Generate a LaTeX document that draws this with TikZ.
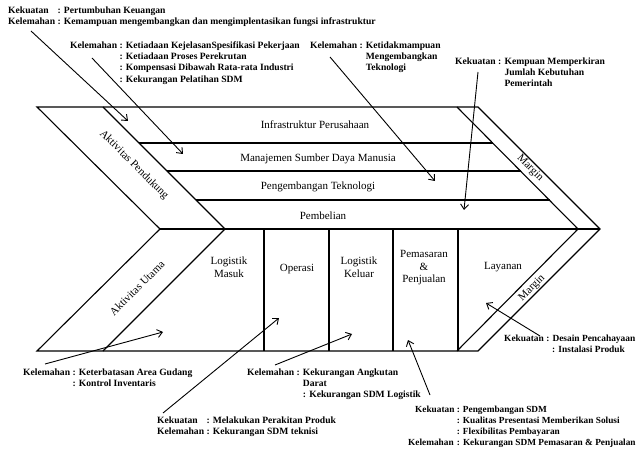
\documentclass[tikz,border=0pt]{standalone}
\usepackage{fontspec}
\setmainfont{Liberation Serif}
\usetikzlibrary{arrows.meta}

\begin{document}
\begin{tikzpicture}[x=1pt,y=-1pt,
  garis/.style={line width=1.1pt},
  panah/.style={line width=0.9pt,-{Straight Barb[length=5pt,width=8pt]}},
  ket/.style={font=\bfseries\fontsize{9.6}{11.4}\selectfont,anchor=north west},
  isi/.style={font=\fontsize{11}{12.5}\selectfont,align=center}]
\tikzstyle{every node}+=[inner sep=0pt]
\useasboundingbox (0,0) rectangle (637,449);
% bentuk rantai nilai
\draw [garis] (37,107) -- (478,107) -- (600,229) -- (478,351) -- (37,351) -- (160,229) -- cycle;
\draw [garis] (103,107) -- (225,229) -- (103,351);
\draw [garis] (457,107) -- (578,229) -- (457,351);
\draw [garis] (160,229) -- (600,229);
\draw [garis] (139,143) -- (493,143);
\draw [garis] (167,171) -- (521,171);
\draw [garis] (196,200) -- (550,200);
\draw [garis] (264,229) -- (264,351);
\draw [garis] (329,229) -- (329,351);
\draw [garis] (393,229) -- (393,351);
\draw [garis] (458,229) -- (458,351);
% aktivitas pendukung
\node [isi] (infra) at (315,125) {Infrastruktur Perusahaan};
\node [isi] (sdm) at (318,159) {Manajemen Sumber Daya Manusia};
\node [isi] (tekno) at (318,187) {Pengembangan Teknologi};
\node [isi] (beli) at (323,216) {Pembelian};
% aktivitas utama
\node [isi] (masuk) at (229,267) {Logistik\\Masuk};
\node [isi] (operasi) at (297,269) {Operasi};
\node [isi] (keluar) at (359,267) {Logistik\\Keluar};
\node [isi] (pasar) at (424,268) {Pemasaran\\\&\\Penjualan};
\node [isi] (layanan) at (503,267) {Layanan};
\node [isi,rotate=-45] (pendukung) at (134,165) {Aktivitas Pendukung};
\node [isi,rotate=45] (utama) at (137,288) {Aktivitas Utama};
\node [isi,rotate=-45] (marginA) at (530,168) {Margin};
\node [isi,rotate=45] (marginB) at (532,288) {Margin};
% keterangan
\node [ket] (ket1) at (8,5) {\begin{tabular}{@{}l@{ }l@{}}
Kekuatan & : Pertumbuhan Keuangan\\
Kelemahan & : Kemampuan mengembangkan dan mengimplentasikan fungsi infrastruktur
\end{tabular}};
\node [ket] (ket2) at (70,40) {\begin{tabular}{@{}l@{ }l@{}}
Kelemahan & : Ketiadaan KejelasanSpesifikasi Pekerjaan\\
 & : Ketiadaan Proses Perekrutan\\
 & : Kompensasi Dibawah Rata-rata Industri\\
 & : Kekurangan Pelatihan SDM
\end{tabular}};
\node [ket] (ket3) at (310,40) {\begin{tabular}{@{}l@{ }l@{ }l@{}}
Kelemahan & : & Ketidakmampuan\\
 & & Mengembangkan\\
 & & Teknologi
\end{tabular}};
\node [ket] (ket4) at (455,56) {\begin{tabular}{@{}l@{ }l@{ }l@{}}
Kekuatan & : & Kempuan Memperkiran\\
 & & Jumlah Kebutuhan\\
 & & Pemerintah
\end{tabular}};
\node [ket] (ket5) at (23,367) {\begin{tabular}{@{}l@{ }l@{}}
Kelemahan & : Keterbatasan Area Gudang\\
 & : Kontrol Inventaris
\end{tabular}};
\node [ket] (ket6) at (157,415) {\begin{tabular}{@{}l@{ }l@{}}
Kekuatan & : Melakukan Perakitan Produk\\
Kelemahan & : Kekurangan SDM teknisi
\end{tabular}};
\node [ket] (ket7) at (247,367) {\begin{tabular}{@{}l@{ }l@{ }l@{}}
Kelemahan & : & Kekurangan Angkutan\\
 & & Darat\\
 & & : Kekurangan SDM Logistik
\end{tabular}};
\node [ket,font=\bfseries\fontsize{9.3}{11.2}\selectfont] (ket8) at (408,404) {\begin{tabular}{@{}l@{ }l@{}}
\hspace*{7pt}Kekuatan & : Pengembangan SDM\\
 & : Kualitas Presentasi Memberikan Solusi\\
 & : Flexibilitas Pembayaran\\
Kelemahan & : Kekurangan SDM Pemasaran \& Penjualan
\end{tabular}};
\node [ket,font=\bfseries\fontsize{9.4}{11.2}\selectfont] (ket9) at (504,333) {\begin{tabular}{@{}l@{}}
Kekuatan : Desain Pencahayaan\\
\hspace*{48pt}: Instalasi Produk
\end{tabular}};
% ujung panah
\coordinate (p1) at (31,31);  \coordinate (q1) at (128,121);
\coordinate (p2) at (92,58);  \coordinate (q2) at (183,154);
\coordinate (p3) at (330,57); \coordinate (q3) at (435,181);
\coordinate (p4) at (478,72); \coordinate (q4) at (464,210);
\coordinate (p5) at (45,364); \coordinate (q5) at (163,332);
\coordinate (p6) at (163,413); \coordinate (q6) at (279,318);
\coordinate (p7) at (275,365); \coordinate (q7) at (352,334);
\coordinate (p8) at (430,395); \coordinate (q8) at (408,340);
\coordinate (p9) at (540,336); \coordinate (q9) at (486,303);
\draw [panah] (p1) -- (q1);
\draw [panah] (p2) -- (q2);
\draw [panah] (p3) -- (q3);
\draw [panah] (p4) -- (q4);
\draw [panah] (p5) -- (q5);
\draw [panah] (p6) -- (q6);
\draw [panah] (p7) -- (q7);
\draw [panah] (p8) -- (q8);
\draw [panah] (p9) -- (q9);
\end{tikzpicture}
\end{document}
